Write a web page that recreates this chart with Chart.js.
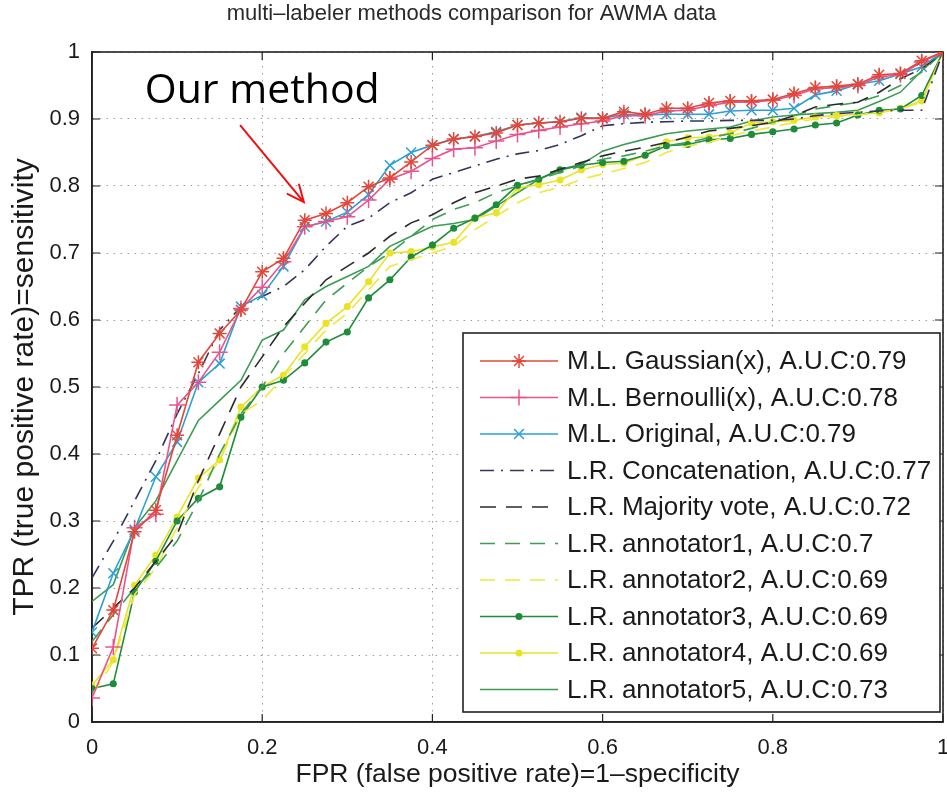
<!DOCTYPE html>
<html><head><meta charset="utf-8">
<script src="https://cdn.jsdelivr.net/npm/chart.js@4.4.0/dist/chart.umd.min.js"></script>
<style>html,body{margin:0;padding:0;background:#fff;}#wrap{width:947px;height:792px;}</style>
</head><body><div id="wrap"><canvas id="c" width="947" height="792"></canvas></div>
<script>
const fpr = [0,0.025,0.05,0.075,0.1,0.125,0.15,0.175,0.2,0.225,0.25,0.275,0.3,0.325,0.35,0.375,0.4,0.425,0.45,0.475,0.5,0.525,0.55,0.575,0.6,0.625,0.65,0.675,0.7,0.725,0.75,0.775,0.8,0.825,0.85,0.875,0.9,0.925,0.95,0.975,1];
const mlGaussian = [0.11,0.167,0.284,0.316,0.428,0.537,0.58,0.615,0.672,0.692,0.749,0.759,0.775,0.799,0.812,0.836,0.861,0.87,0.874,0.879,0.891,0.894,0.896,0.901,0.901,0.911,0.907,0.916,0.916,0.924,0.927,0.927,0.929,0.938,0.947,0.949,0.952,0.966,0.968,0.987,1];
const mlBernoulli = [0.036,0.112,0.29,0.31,0.473,0.507,0.552,0.617,0.649,0.687,0.739,0.747,0.754,0.779,0.81,0.822,0.841,0.855,0.857,0.867,0.877,0.883,0.888,0.893,0.897,0.905,0.905,0.912,0.913,0.92,0.925,0.925,0.928,0.935,0.945,0.947,0.95,0.963,0.966,0.985,1];
const mlOriginal = [0.134,0.222,0.287,0.366,0.418,0.507,0.535,0.62,0.637,0.68,0.739,0.747,0.761,0.787,0.831,0.85,0.861,0.87,0.874,0.881,0.891,0.894,0.896,0.902,0.901,0.907,0.906,0.907,0.907,0.907,0.912,0.913,0.913,0.916,0.936,0.942,0.952,0.957,0.967,0.978,1];
const lrConcat = [0.215,0.27,0.33,0.39,0.46,0.52,0.585,0.62,0.635,0.65,0.675,0.71,0.74,0.752,0.775,0.79,0.81,0.82,0.83,0.84,0.848,0.853,0.862,0.875,0.89,0.893,0.895,0.896,0.897,0.897,0.898,0.898,0.898,0.9,0.905,0.908,0.91,0.912,0.913,0.913,1];
const lrMajority = [0.14,0.17,0.2,0.24,0.28,0.36,0.43,0.5,0.545,0.59,0.625,0.66,0.68,0.7,0.725,0.745,0.757,0.775,0.79,0.8,0.81,0.815,0.825,0.835,0.845,0.852,0.858,0.865,0.873,0.882,0.886,0.89,0.895,0.905,0.918,0.922,0.925,0.94,0.96,0.975,1];
const lrAnn1 = [0.12,0.16,0.2,0.23,0.27,0.33,0.4,0.46,0.5,0.55,0.59,0.63,0.655,0.68,0.7,0.725,0.75,0.765,0.775,0.79,0.8,0.81,0.82,0.83,0.84,0.845,0.852,0.86,0.865,0.872,0.878,0.886,0.895,0.905,0.915,0.92,0.925,0.935,0.95,0.97,1];
const lrAnn2 = [0.04,0.09,0.19,0.23,0.29,0.35,0.39,0.46,0.48,0.515,0.55,0.585,0.61,0.645,0.68,0.69,0.7,0.71,0.735,0.755,0.775,0.79,0.798,0.81,0.818,0.826,0.835,0.85,0.86,0.865,0.875,0.882,0.888,0.895,0.9,0.903,0.906,0.91,0.915,0.925,1];
const lrAnn3 = [0.05,0.057,0.194,0.24,0.3,0.334,0.351,0.455,0.5,0.51,0.536,0.567,0.582,0.633,0.66,0.694,0.712,0.737,0.752,0.772,0.801,0.81,0.824,0.831,0.835,0.837,0.846,0.86,0.862,0.869,0.871,0.877,0.881,0.885,0.891,0.894,0.906,0.913,0.915,0.935,1];
const lrAnn4 = [0.055,0.093,0.204,0.249,0.306,0.364,0.391,0.47,0.5,0.518,0.56,0.595,0.62,0.657,0.7,0.702,0.709,0.716,0.752,0.76,0.797,0.802,0.809,0.824,0.832,0.834,0.846,0.866,0.872,0.873,0.879,0.894,0.896,0.898,0.903,0.905,0.907,0.909,0.916,0.927,1];
const lrAnn5 = [0.18,0.205,0.29,0.33,0.39,0.45,0.48,0.51,0.57,0.585,0.63,0.65,0.665,0.68,0.71,0.725,0.74,0.744,0.75,0.77,0.79,0.81,0.825,0.832,0.852,0.862,0.87,0.878,0.882,0.885,0.888,0.897,0.903,0.906,0.908,0.91,0.913,0.926,0.94,0.972,1];

const seriesLabels = [
  'M.L. Gaussian(x), A.U.C:0.79',
  'M.L. Bernoulli(x), A.U.C:0.78',
  'M.L. Original, A.U.C:0.79',
  'L.R. Concatenation, A.U.C:0.77',
  'L.R. Majority vote, A.U.C:0.72',
  'L.R. annotator1, A.U.C:0.7',
  'L.R. annotator2, A.U.C:0.69',
  'L.R. annotator3, A.U.C:0.69',
  'L.R. annotator4, A.U.C:0.69',
  'L.R. annotator5, A.U.C:0.73'
];
const xTickValues = [0,0.2,0.4,0.6,0.8,1];
const xTickLabels = ['0','0.2','0.4','0.6','0.8','1'];
const yTickValues = [0,0.1,0.2,0.3,0.4,0.5,0.6,0.7,0.8,0.9,1];
const yTickLabels = ['0','0.1','0.2','0.3','0.4','0.5','0.6','0.7','0.8','0.9','1'];
const chartTitle = 'multi\u2013labeler methods comparison for AWMA data';
const xTitle = 'FPR (false positive rate)=1\u2013specificity';
const yTitle = 'TPR (true positive rate)=sensitivity';
const noteText = 'Our method';

const seriesValues = [mlGaussian, mlBernoulli, mlOriginal, lrConcat, lrMajority, lrAnn1, lrAnn2, lrAnn3, lrAnn4, lrAnn5];
const styles = [
  {color:'#e2483a', dash:[], pointStyle:'star', r:7},
  {color:'#e8558c', dash:[], pointStyle:'cross', r:8},
  {color:'#2ba0d4', dash:[], pointStyle:'crossRot', r:7},
  {color:'#34345e', dash:[14,7,2,7], pointStyle:false, r:0},
  {color:'#2a2a2a', dash:[16,10], pointStyle:false, r:0},
  {color:'#3f9d55', dash:[15,10], pointStyle:false, r:0},
  {color:'#eee83a', dash:[15,10], pointStyle:false, r:0},
  {color:'#1f8c3c', dash:[], pointStyle:'circle', r:2.8},
  {color:'#e9e325', dash:[], pointStyle:'circle', r:2.8},
  {color:'#3b9c52', dash:[], pointStyle:false, r:0}
];

const datasets = seriesValues.map((vals, i) => ({
  label: seriesLabels[i],
  data: fpr.map((x, j) => ({x: x, y: vals[j]})),
  showLine: true,
  borderColor: styles[i].color,
  backgroundColor: styles[i].color,
  borderWidth: 1.6,
  borderDash: styles[i].dash,
  pointStyle: styles[i].pointStyle || 'circle',
  pointRadius: styles[i].r,
  pointHoverRadius: styles[i].r,
  pointBorderWidth: 1.5,
  pointBorderColor: styles[i].color,
  pointBackgroundColor: styles[i].color,
  tension: 0
}));

const framePlugin = {
  id: 'frame',
  beforeDatasetsDraw(chart) {
    const {ctx, chartArea: a, scales} = chart;
    ctx.save();
    ctx.strokeStyle = '#222';
    ctx.lineWidth = 1.2;
    ctx.beginPath();
    xTickValues.forEach(v => {
      const px = scales.x.getPixelForValue(v);
      ctx.moveTo(px, a.bottom); ctx.lineTo(px, a.bottom - 8);
      ctx.moveTo(px, a.top); ctx.lineTo(px, a.top + 8);
    });
    yTickValues.forEach(v => {
      const py = scales.y.getPixelForValue(v);
      ctx.moveTo(a.left, py); ctx.lineTo(a.left + 8, py);
      ctx.moveTo(a.right, py); ctx.lineTo(a.right - 8, py);
    });
    ctx.stroke();
    ctx.lineWidth = 1.6;
    ctx.strokeRect(a.left, a.top, a.right - a.left, a.bottom - a.top);
    ctx.restore();
  },
  afterDatasetsDraw(chart) {
    const {ctx, chartArea: a, scales} = chart;
    ctx.save();
    // legend box
    const bx = a.right - 480, by = a.bottom - 389, bw = 477, bh = 379;
    ctx.fillStyle = '#fff';
    ctx.fillRect(bx, by, bw, bh);
    ctx.strokeStyle = '#222';
    ctx.lineWidth = 1.6;
    ctx.strokeRect(bx, by, bw, bh);
    chart.data.datasets.forEach((ds, i) => {
      const cy = by + 28 + i * 36.5;
      ctx.save();
      ctx.strokeStyle = ds.borderColor;
      ctx.fillStyle = ds.borderColor;
      ctx.lineWidth = 1.6;
      ctx.setLineDash(ds.borderDash || []);
      ctx.beginPath();
      ctx.moveTo(bx + 17, cy); ctx.lineTo(bx + 95, cy);
      ctx.stroke();
      ctx.setLineDash([]);
      if (ds.pointRadius > 0) {
        ctx.lineWidth = 1.5;
        Chart.helpers.drawPoint(ctx, {pointStyle: ds.pointStyle, radius: ds.pointRadius, rotation: 0, borderWidth: 1.5}, bx + 56, cy);
      }
      ctx.restore();
      ctx.fillStyle = '#1a1a1a';
      ctx.font = '26px "Liberation Sans", Arial, sans-serif';
      ctx.textBaseline = 'middle';
      ctx.textAlign = 'left';
      ctx.fillText(ds.label, bx + 104, cy + 1);
    });
    // annotation
    const tx = scales.x.getPixelForValue(0.2), ty = scales.y.getPixelForValue(0.924);
    ctx.fillStyle = '#000';
    ctx.font = '41px "Open Sans", sans-serif';
    ctx.textAlign = 'center';
    ctx.textBaseline = 'alphabetic';
    ctx.fillText(noteText, tx, ty);
    const x1 = scales.x.getPixelForValue(0.174), y1 = scales.y.getPixelForValue(0.891);
    const x2 = scales.x.getPixelForValue(0.249), y2 = scales.y.getPixelForValue(0.776);
    const ang = Math.atan2(y2 - y1, x2 - x1);
    ctx.strokeStyle = '#f01010';
    ctx.lineWidth = 2;
    ctx.beginPath();
    ctx.moveTo(x1, y1); ctx.lineTo(x2, y2);
    ctx.moveTo(x2 - 19 * Math.cos(ang - 0.42), y2 - 19 * Math.sin(ang - 0.42));
    ctx.lineTo(x2, y2);
    ctx.lineTo(x2 - 19 * Math.cos(ang + 0.42), y2 - 19 * Math.sin(ang + 0.42));
    ctx.stroke();
    ctx.restore();
  }
};

const tickFont = {family: '"Liberation Sans", Arial, sans-serif', size: 22};
new Chart(document.getElementById('c'), {
  type: 'scatter',
  data: {datasets: datasets},
  plugins: [framePlugin],
  options: {
    responsive: false,
    animation: false,
    devicePixelRatio: 1,
    layout: {autoPadding: false, padding: {top: 0, right: 4, left: 0, bottom: 0}},
    plugins: {
      legend: {display: false},
      tooltip: {enabled: false},
      title: {display: true, text: chartTitle, color: '#2a2a2a',
        font: {family: '"Liberation Sans", Arial, sans-serif', size: 22, weight: 'normal', lineHeight: 1.2},
        padding: {top: 1, bottom: 24.6}}
    },
    scales: {
      x: {
        type: 'linear', min: 0, max: 1,
        afterBuildTicks: s => { s.ticks = xTickValues.map(v => ({value: v})); },
        afterFit: s => { s.height = 70; s.paddingRight = 0; s.paddingLeft = 0; },
        ticks: {font: tickFont, color: '#1a1a1a', padding: 13, maxRotation: 0,
          callback: (v) => xTickLabels[xTickValues.indexOf(v)]},
        grid: {color: '#9a9a9a', lineWidth: 1, drawTicks: false},
        border: {display: true, color: '#222', width: 1.6, dash: [1.5, 5.5]},
        title: {display: true, text: xTitle, color: '#1a1a1a',
          font: {family: '"Liberation Sans", Arial, sans-serif', size: 26.5, lineHeight: 1.2},
          padding: {top: 0, bottom: 1}}
      },
      y: {
        type: 'linear', min: 0, max: 1,
        afterBuildTicks: s => { s.ticks = yTickValues.map(v => ({value: v})); },
        afterFit: s => { s.width = 92; s.paddingTop = 0; s.paddingBottom = 0; },
        ticks: {font: tickFont, color: '#1a1a1a', padding: 12,
          callback: (v) => yTickLabels[yTickValues.indexOf(v)]},
        grid: {color: '#9a9a9a', lineWidth: 1, drawTicks: false},
        border: {display: true, color: '#222', width: 1.6, dash: [1.5, 5.5]},
        title: {display: true, text: yTitle, color: '#1a1a1a',
          font: {family: '"Liberation Sans", Arial, sans-serif', size: 30, lineHeight: 1.2},
          padding: {top: 7, bottom: 0}}
      }
    }
  }
});
</script></body></html>
